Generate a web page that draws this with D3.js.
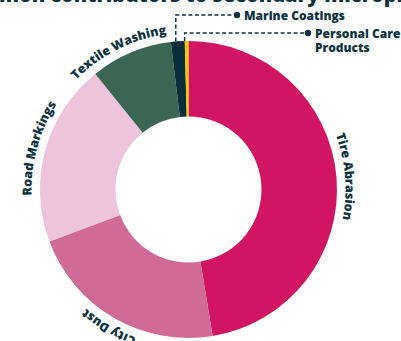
<!DOCTYPE html>
<html>
<head>
<meta charset="utf-8">
<script src="https://cdn.jsdelivr.net/npm/d3@7"></script>
<style>
  body { margin: 0; background: #fff; }
  text { font-family: "Open Sans", sans-serif; font-weight: 800; fill: #0d3340; }
</style>
</head>
<body>
<div id="chart-area"></div>
<script>

// data (share of secondary microplastics, %)
let categories = ["Tire Abrasion", "City Dust", "Road Markings", "Textile Washing", "Marine Coatings", "Personal Care Products"];
let shares = [47.4, 21.9, 19.9, 8.9, 1.5, 0.4];
let colors = ["#d11563", "#cf6b96", "#eec3dc", "#3b6653", "#0b2f3a", "#f7c600"];
let title = "Most common contributors to secondary microplastics";

let width = 401, height = 341;
let cx = 188.5, cy = 189.5;
let outerR = 148.5, innerR = 73, labelR = 157;
// small angular nudge (degrees) for the curved labels
let labelNudge = [0, 0, 0, -4];

let svg = d3.select("#chart-area").append("svg")
    .attr("width", width)
    .attr("height", height);

// title (only its lower edge is visible in the crop)
let titleText = svg.append("text")
    .attr("y", 2)
    .attr("font-size", 20)
    .text(title);
let idx = title.indexOf("mon contributors");
let shift = titleText.node().getSubStringLength(0, idx);
titleText.attr("x", -shift - 1);

let pie = d3.pie().sort(null).value(d => d)(shares);
let arc = d3.arc().innerRadius(innerR).outerRadius(outerR);

let g = svg.append("g")
    .attr("transform", "translate(" + cx + "," + cy + ")");

g.selectAll("path.slice")
    .data(pie)
  .enter().append("path")
    .attr("class", "slice")
    .attr("d", arc)
    .attr("fill", (d, i) => colors[i]);

// curved labels for the big slices
function pt(a, r) {
	return [r * Math.sin(a), -r * Math.cos(a)];
}

let big = pie.filter(d => d.value > 5);

g.selectAll("path.lp")
    .data(big)
  .enter().append("path")
    .attr("class", "lp")
    .attr("id", (d, i) => "lp" + i)
    .attr("fill", "none")
    .attr("d", d => {
    	let m = (d.startAngle + d.endAngle) / 2 + labelNudge[d.index] * Math.PI / 180;
    	let p0 = pt(m - 1.2, labelR), p1 = pt(m + 1.2, labelR);
    	return "M" + p0[0] + "," + p0[1] + " A" + labelR + "," + labelR + " 0 0 1 " + p1[0] + "," + p1[1];
    });

g.selectAll("text.curved")
    .data(big)
  .enter().append("text")
    .attr("class", "curved")
    .attr("font-size", 12.5)
  .append("textPath")
    .attr("href", (d, i) => "#lp" + i)
    .attr("startOffset", "50%")
    .attr("text-anchor", "middle")
    .text(d => categories[d.index]);

// callouts for the thin slices
let callouts = [
	{ i: 4, lineY: 15, dotX: 237, lines: ["Marine Coatings"] },
	{ i: 5, lineY: 33, dotX: 308, lines: ["Personal Care", "Products"] }
];

callouts.forEach(c => {
	let d = pie[c.i];
	let m = (d.startAngle + d.endAngle) / 2;
	let x0 = cx + outerR * Math.sin(m) - 2;
	let y0 = cy - outerR * Math.cos(m);

	svg.append("path")
		.attr("d", "M" + x0 + "," + y0 + " V" + c.lineY + " H" + c.dotX)
		.attr("fill", "none")
		.attr("stroke", "#0d3340")
		.attr("stroke-width", 1.5)
		.attr("stroke-dasharray", "4,2.5");

	svg.append("circle")
		.attr("cx", c.dotX)
		.attr("cy", c.lineY)
		.attr("r", 3.2)
		.attr("fill", "#0d3340");

	let t = svg.append("text")
		.attr("x", c.dotX + 7)
		.attr("y", c.lineY + 4.5)
		.attr("font-size", 12);
	c.lines.forEach((l, k) => {
		t.append("tspan")
			.attr("x", c.dotX + 7)
			.attr("dy", k === 0 ? 0 : 14)
			.text(l);
	});
});

</script>
</body>
</html>
